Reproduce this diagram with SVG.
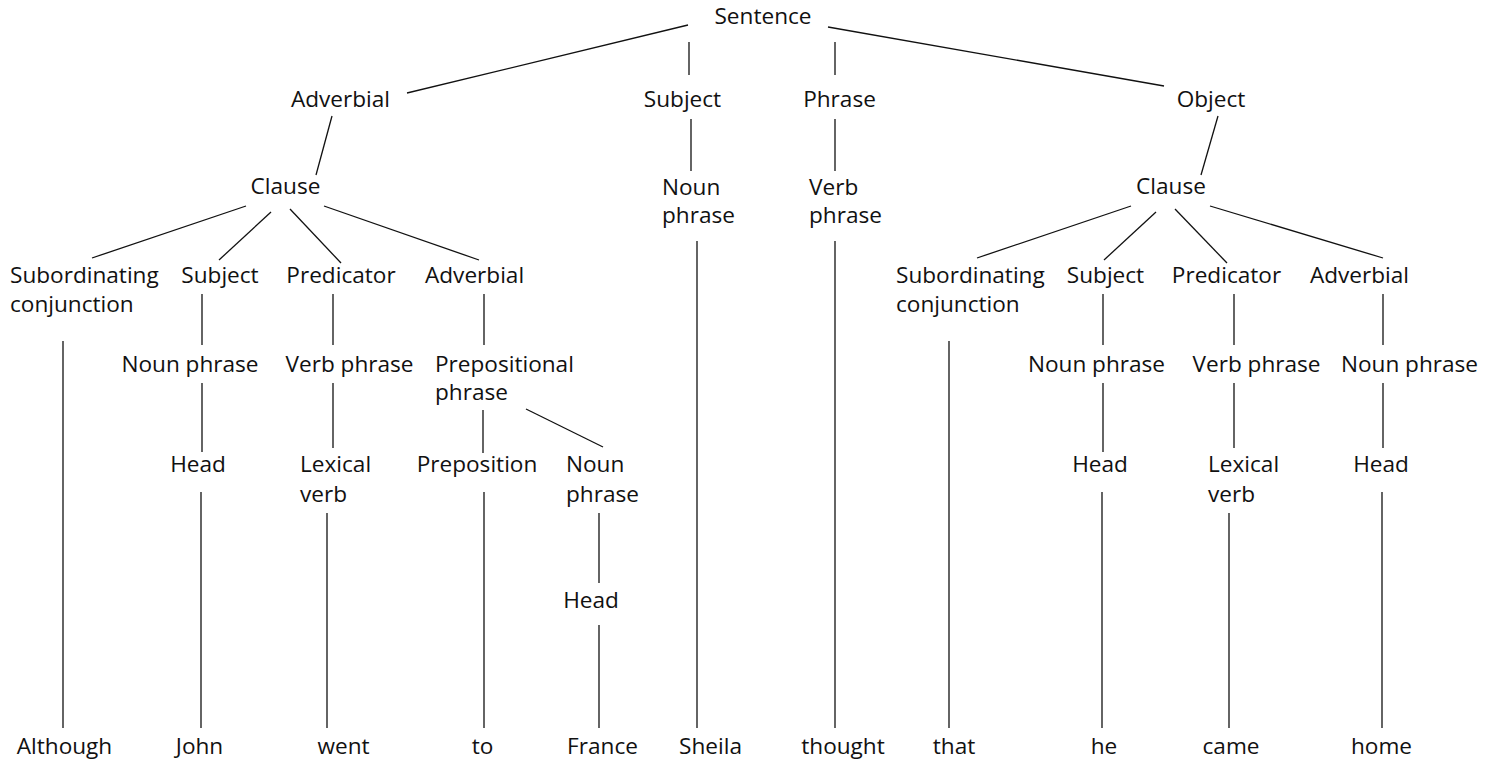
<svg xmlns="http://www.w3.org/2000/svg" width="1491" height="763" viewBox="0 0 1491 763">
<style>
text{font-family:"Open Sans","Noto Sans","DejaVu Sans",sans-serif;font-size:22.6px;fill:#111}
.m{text-anchor:middle}
.s{text-anchor:start}
#edges line{stroke:#111;stroke-width:1.3;fill:none}
</style>
<rect width="1491" height="763" fill="#fff"/>
<g id="edges">
<line x1="688" y1="25" x2="407" y2="93"/>
<line x1="689" y1="42" x2="689" y2="75"/>
<line x1="835" y1="42" x2="835" y2="75"/>
<line x1="828" y1="27" x2="1164" y2="86"/>
<line x1="332" y1="116" x2="316" y2="175"/>
<line x1="691" y1="119" x2="691" y2="171"/>
<line x1="835" y1="119" x2="835" y2="171"/>
<line x1="1218" y1="116" x2="1201" y2="175"/>
<line x1="246" y1="206" x2="92" y2="258"/>
<line x1="271" y1="212" x2="219" y2="260"/>
<line x1="290" y1="209" x2="341" y2="263"/>
<line x1="324" y1="206" x2="479" y2="260"/>
<line x1="1131" y1="206" x2="977" y2="258"/>
<line x1="1156" y1="212" x2="1104" y2="260"/>
<line x1="1175" y1="209" x2="1227" y2="263"/>
<line x1="1210" y1="206" x2="1383" y2="258"/>
<line x1="697" y1="241" x2="697" y2="728"/>
<line x1="835" y1="241" x2="835" y2="728"/>
<line x1="63" y1="341" x2="63" y2="728"/>
<line x1="202" y1="294" x2="202" y2="345"/>
<line x1="333" y1="294" x2="333" y2="345"/>
<line x1="484" y1="294" x2="484" y2="345"/>
<line x1="202" y1="383" x2="202" y2="452"/>
<line x1="333" y1="383" x2="333" y2="448"/>
<line x1="483" y1="410" x2="483" y2="453"/>
<line x1="526" y1="409" x2="603" y2="447"/>
<line x1="201" y1="492" x2="201" y2="728"/>
<line x1="327" y1="513" x2="327" y2="728"/>
<line x1="484" y1="492" x2="484" y2="728"/>
<line x1="599" y1="513" x2="599" y2="583"/>
<line x1="599" y1="625" x2="599" y2="728"/>
<line x1="949" y1="341" x2="949" y2="728"/>
<line x1="1103" y1="294" x2="1103" y2="345"/>
<line x1="1234" y1="294" x2="1234" y2="345"/>
<line x1="1383" y1="294" x2="1383" y2="345"/>
<line x1="1103" y1="383" x2="1103" y2="452"/>
<line x1="1234" y1="383" x2="1234" y2="448"/>
<line x1="1383" y1="383" x2="1383" y2="448"/>
<line x1="1102" y1="492" x2="1102" y2="728"/>
<line x1="1229" y1="513" x2="1229" y2="728"/>
<line x1="1382" y1="492" x2="1382" y2="728"/>
</g>
<g id="n-sentence"><text class="m" x="763" y="24">Sentence</text></g>
<g id="n-adverbial"><text class="m" x="340.5" y="107">Adverbial</text></g>
<g id="n-subject"><text class="m" x="682.5" y="107">Subject</text></g>
<g id="n-phrase"><text class="m" x="839.5" y="107">Phrase</text></g>
<g id="n-object"><text class="m" x="1211" y="107">Object</text></g>
<g id="n-clause-l"><text class="m" x="285.5" y="194">Clause</text></g>
<g id="n-np-top"><text class="s" x="662" y="195">Noun</text><text class="s" x="662" y="223">phrase</text></g>
<g id="n-vp-top"><text class="s" x="809" y="195">Verb</text><text class="s" x="809" y="223">phrase</text></g>
<g id="n-clause-r"><text class="m" x="1171" y="194">Clause</text></g>
<g id="n-subconj-l"><text class="s" x="10" y="283">Subordinating</text><text class="s" x="10" y="312">conjunction</text></g>
<g id="n-subj-l"><text class="m" x="220" y="283">Subject</text></g>
<g id="n-pred-l"><text class="m" x="341" y="283">Predicator</text></g>
<g id="n-adv-l"><text class="s" x="425" y="283">Adverbial</text></g>
<g id="n-subconj-r"><text class="s" x="896" y="283">Subordinating</text><text class="s" x="896" y="312">conjunction</text></g>
<g id="n-subj-r"><text class="m" x="1105.5" y="283">Subject</text></g>
<g id="n-pred-r"><text class="m" x="1226.5" y="283">Predicator</text></g>
<g id="n-adv-r"><text class="m" x="1359.5" y="283">Adverbial</text></g>
<g id="n-np-l"><text class="m" x="190" y="372">Noun phrase</text></g>
<g id="n-vp-l"><text class="m" x="349.5" y="372">Verb phrase</text></g>
<g id="n-pp"><text class="s" x="435" y="372">Prepositional</text><text class="s" x="435" y="400">phrase</text></g>
<g id="n-np-r1"><text class="m" x="1096.5" y="372">Noun phrase</text></g>
<g id="n-vp-r"><text class="m" x="1256.5" y="372">Verb phrase</text></g>
<g id="n-np-r2"><text class="m" x="1409.5" y="372">Noun phrase</text></g>
<g id="n-head-l"><text class="m" x="198" y="472">Head</text></g>
<g id="n-lex-l"><text class="s" x="300" y="472">Lexical</text><text class="s" x="300" y="502">verb</text></g>
<g id="n-prep"><text class="m" x="477" y="472">Preposition</text></g>
<g id="n-np-pp"><text class="s" x="566" y="472">Noun</text><text class="s" x="566" y="502">phrase</text></g>
<g id="n-head-r1"><text class="m" x="1100" y="472">Head</text></g>
<g id="n-lex-r"><text class="s" x="1208" y="472">Lexical</text><text class="s" x="1208" y="502">verb</text></g>
<g id="n-head-r2"><text class="m" x="1381" y="472">Head</text></g>
<g id="n-head-pp"><text class="m" x="591" y="608">Head</text></g>
<g id="w-although"><text class="m" x="64.5" y="754">Although</text></g>
<g id="w-john"><text class="m" x="199.5" y="754">John</text></g>
<g id="w-went"><text class="m" x="343.5" y="754">went</text></g>
<g id="w-to"><text class="m" x="482.5" y="754">to</text></g>
<g id="w-france"><text class="m" x="602.5" y="754">France</text></g>
<g id="w-sheila"><text class="m" x="710.5" y="754">Sheila</text></g>
<g id="w-thought"><text class="m" x="843" y="754">thought</text></g>
<g id="w-that"><text class="m" x="954" y="754">that</text></g>
<g id="w-he"><text class="m" x="1104" y="754">he</text></g>
<g id="w-came"><text class="m" x="1231" y="754">came</text></g>
<g id="w-home"><text class="m" x="1381.5" y="754">home</text></g>
</svg>
